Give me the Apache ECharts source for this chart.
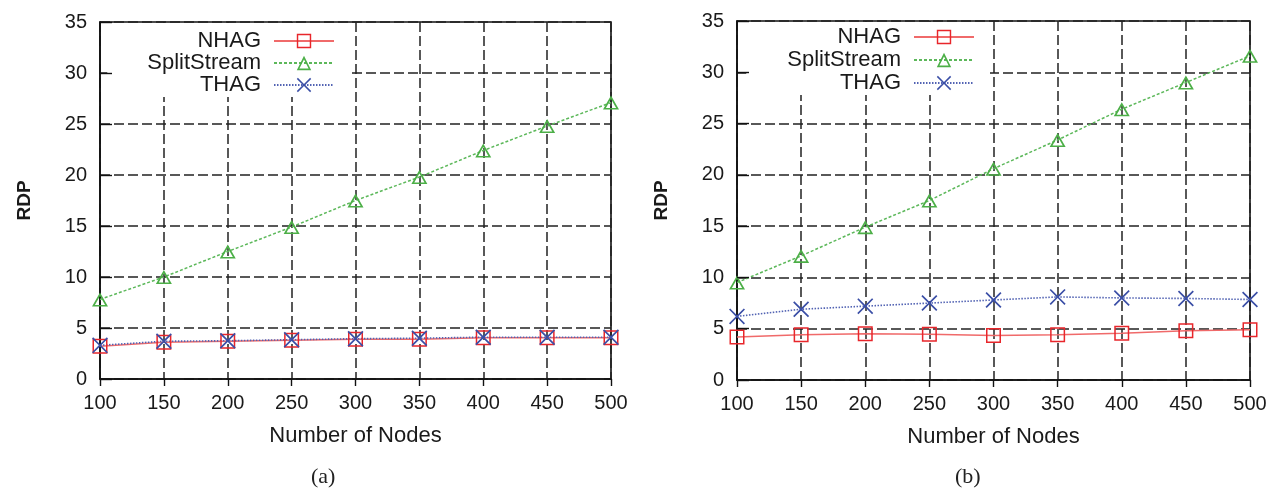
<!DOCTYPE html>
<html lang="en">
<head>
<meta charset="UTF-8">
<title>RDP vs Number of Nodes</title>
<style>
  html, body { margin: 0; padding: 0; background: #fff; }
  #chart { width: 1282px; height: 493px; }
</style>
</head>
<body>
<div id="chart"></div>
<script src="https://cdn.jsdelivr.net/npm/echarts@6/dist/echarts.min.js"></script>
<script>
var chart = echarts.init(document.getElementById('chart'));

// x values (number of nodes)
var nodes = [100, 150, 200, 250, 300, 350, 400, 450, 500];
var seriesNames = ['NHAG', 'SplitStream', 'THAG'];
var captions = ['(a)', '(b)'];

// panel (a)
var nhagA = [3.2, 3.6, 3.7, 3.8, 3.9, 3.9, 4.05, 4.05, 4.05];
var splitA = [7.8, 10.0, 12.5, 14.9, 17.5, 19.8, 22.4, 24.8, 27.1];
var thagA = [3.3, 3.7, 3.75, 3.85, 3.95, 4.0, 4.1, 4.1, 4.1];

// panel (b)
var nhagB = [4.2, 4.4, 4.5, 4.45, 4.35, 4.4, 4.55, 4.8, 4.9];
var splitB = [9.5, 12.1, 14.9, 17.5, 20.6, 23.4, 26.4, 29.0, 31.6];
var thagB = [6.2, 6.9, 7.2, 7.5, 7.8, 8.1, 8.0, 7.95, 7.85];

var FONT = 'Liberation Sans, Arial, sans-serif';
var TXT = '#1a1a1a';

// hollow outline symbols so the grid shows through
var SQ = 'path://M0,0H20V20H0Z M2,2V18H18V2Z';
var TRI = 'path://M10,0L20,18L0,18Z M10,4.5L3.6,16L16.4,16Z';
var CROSS = 'path://M0,1.5L1.5,0L10,8.5L18.5,0L20,1.5L11.5,10L20,18.5L18.5,20L10,11.5L1.5,20L0,18.5L8.5,10Z';

var styles = {
        'NHAG': {symbol: SQ, size: 15, color: '#e8262b', line: '#f06a6a', type: 'solid', width: 1.5},
        'SplitStream': {symbol: TRI, size: [16, 14], color: '#4caf47', line: '#5cb85a', type: [3, 2], width: 1.5},
        'THAG': {symbol: CROSS, size: 16, color: '#3a4ea6', line: '#5263b3', type: [1.5, 1.5], width: 1.6}
};

function pairs(vals) {
        return vals.map(function (v, i) { return [nodes[i], v]; });
}

function makeSeries(name, vals, idx) {
        var s = styles[name];
        return {
                name: name,
                type: 'line',
                xAxisIndex: idx,
                yAxisIndex: idx,
                data: pairs(vals),
                symbol: s.symbol,
                symbolSize: s.size,
                showAllSymbol: true,
                animation: false,
                itemStyle: {color: s.color},
                lineStyle: {color: s.line, type: s.type, width: s.width}
        };
}

function xAxisOf(idx) {
        return {
                type: 'value', gridIndex: idx,
                min: 100, max: 500, interval: 50,
                name: 'Number of Nodes', nameLocation: 'middle', nameGap: 46,
                nameTextStyle: {fontSize: 22, color: TXT, fontFamily: FONT},
                axisLine: {show: true, lineStyle: {color: '#111', width: 1.6}},
                axisTick: {show: false},
                axisLabel: {fontSize: 20, color: TXT, fontFamily: FONT, margin: 14},
                splitLine: {show: true, lineStyle: {color: '#222', type: [10, 4], width: 1.5}}
        };
}

function yAxisOf(idx) {
        return {
                type: 'value', gridIndex: idx,
                min: 0, max: 35, interval: 5,
                name: 'RDP', nameLocation: 'middle', nameGap: 66,
                nameTextStyle: {fontSize: 19, fontWeight: 'bold', color: TXT, fontFamily: FONT},
                axisLine: {show: true, lineStyle: {color: '#111', width: 1.6}},
                axisTick: {show: false},
                axisLabel: {fontSize: 20, color: TXT, fontFamily: FONT, margin: 13},
                splitLine: {show: true, lineStyle: {color: '#222', type: [10, 4], width: 1.5}}
        };
}

// mirrored inward ticks drawn above the legend box
function topTicks(idx) {
        return {
                type: 'value', gridIndex: idx, position: 'top', zlevel: 1, z: 10,
                min: 100, max: 500, interval: 50,
                axisLine: {show: false}, axisLabel: {show: false}, splitLine: {show: false},
                axisTick: {show: true, inside: true, length: 7, lineStyle: {color: '#111', width: 1.4}}
        };
}
function leftTicks(idx) {
        return {
                type: 'value', gridIndex: idx, position: 'left', zlevel: 1, z: 10,
                min: 0, max: 35, interval: 5,
                axisLine: {show: false}, axisLabel: {show: false}, splitLine: {show: false},
                axisTick: {show: true, inside: true, length: 12, lineStyle: {color: '#111', width: 1.4}}
        };
}

function legendOf(right, top, pad, gap) {
        return {
                data: seriesNames,
                orient: 'vertical', align: 'right',
                right: right, top: top,
                itemWidth: 60, itemHeight: 18, itemGap: gap,
                padding: pad,
                backgroundColor: '#fff',
                selectedMode: false,
                z: 2,
                textStyle: {fontSize: 22, color: TXT, fontFamily: FONT, padding: [0, 8, 0, 0]}
        };
}

var option = {
        backgroundColor: '#fff',
        animation: false,
        grid: [
                {left: 100, top: 22, width: 511, height: 357, show: true, borderColor: '#111', borderWidth: 1.6, backgroundColor: 'transparent'},
                {left: 737, top: 21, width: 513, height: 359, show: true, borderColor: '#111', borderWidth: 1.6, backgroundColor: 'transparent'}
        ],
        xAxis: [xAxisOf(0), xAxisOf(1), topTicks(0), topTicks(1)],
        yAxis: [yAxisOf(0), yAxisOf(1), leftTicks(0), leftTicks(1)],
        legend: [
                legendOf(1282 - 352, 23, [7, 17, 1, 40], 0),
                legendOf(1282 - 990, 22, [4, 15, 1, 41], 1)
        ],
        graphic: [
                {type: 'text', left: 323 - 12, top: 466, style: {text: captions[0], fontSize: 22, fontFamily: 'Liberation Serif, DejaVu Serif, serif', fill: '#222'}},
                {type: 'text', left: 967 - 12, top: 466, style: {text: captions[1], fontSize: 22, fontFamily: 'Liberation Serif, DejaVu Serif, serif', fill: '#222'}}
        ],
        series: [
                makeSeries('NHAG', nhagA, 0),
                makeSeries('SplitStream', splitA, 0),
                makeSeries('THAG', thagA, 0),
                makeSeries('NHAG', nhagB, 1),
                makeSeries('SplitStream', splitB, 1),
                makeSeries('THAG', thagB, 1)
        ]
};

chart.setOption(option);
</script>
</body>
</html>
